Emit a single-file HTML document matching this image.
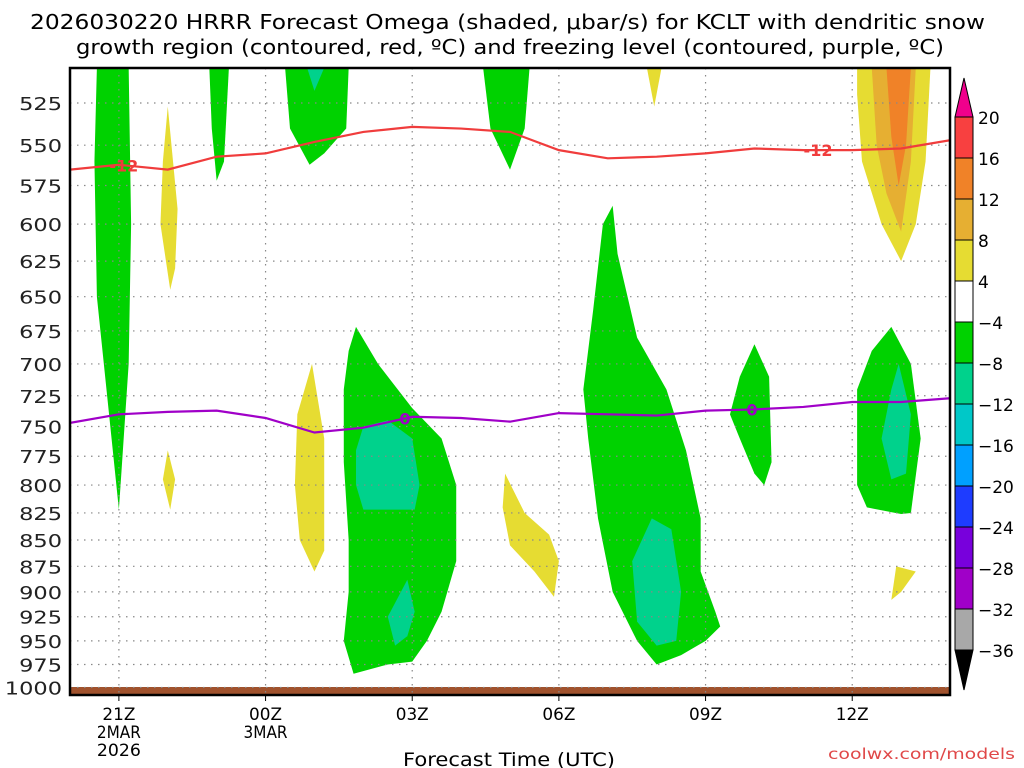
<!DOCTYPE html>
<html><head><meta charset="utf-8"><style>
body{margin:0;background:#fff;}
svg{display:block;font-family:"DejaVu Sans","Liberation Sans",sans-serif;}
</style></head><body>
<svg id="c" width="1024" height="768" viewBox="0 0 1024 768">
<text x="30" y="29" font-size="20" textLength="955" lengthAdjust="spacingAndGlyphs">2026030220 HRRR Forecast Omega (shaded, μbar/s) for KCLT with dendritic snow</text>
<text x="76" y="54" font-size="20" textLength="868" lengthAdjust="spacingAndGlyphs">growth region (contoured, red, ºC) and freezing level (contoured, purple, ºC)</text>
<g id="plot"></g>
<g id="cbar"></g>
<text x="403" y="766" font-size="19" textLength="212" lengthAdjust="spacingAndGlyphs">Forecast Time (UTC)</text>
<text x="828" y="759" font-size="15" textLength="187" lengthAdjust="spacingAndGlyphs" fill="#e04848">coolwx.com/models</text>
</svg>
<script>
const NS='http://www.w3.org/2000/svg';
const pressureTicks=[525,550,575,600,625,650,675,700,725,750,775,800,825,850,875,900,925,950,975,1000];
const timeTicks=[1,4,7,10,13,16];
const timeLabels=[['21Z','2MAR','2026'],['00Z','3MAR'],['03Z'],['06Z'],['09Z'],['12Z']];
const redLineHours=[0,1,2,3,4,5,6,7,8,9,10,11,12,13,14,15,16,17,18];
const redLineP=[565,562,565,557,555,548,542,539,540,542,553,558,557,555,552,553,553,552,547];
const purpleLineP=[747,740,738,737,743,755,751,742,743,746,739,740,741,737,736,734,730,730,727];
const cbarLevels=['20','16','12','8','4','−4','−8','−12','−16','−20','−24','−28','−32','−36'];
const cbarColors=['#f84040','#f08228','#e6af32','#e6dc32','#ffffff','#00d200','#00d28c','#00c8c8','#00a0ff','#1e3cff','#7800dc','#a000c8','#a8a8a8'];
const GREEN='#00d200',TEAL='#00d28c',YEL='#e6dc32',YOR='#e6af32',ORG='#f08228';
const shapes=[
[GREEN,[[0.55,505],[1.2,505],[1.25,600],[1.2,700],[1.05,790],[1.0,822],[0.85,760],[0.55,650],[0.5,560]]],
[GREEN,[[2.85,505],[3.25,505],[3.15,560],[3.0,572],[2.9,540]]],
[GREEN,[[4.4,505],[5.7,505],[5.65,540],[5.2,555],[4.9,562],[4.5,540]]],
[TEAL,[[4.85,505],[5.2,505],[5.0,518]]],
[GREEN,[[8.45,505],[9.4,505],[9.3,540],[9.0,565],[8.6,540]]],
[GREEN,[[5.85,672],[6.3,700],[7.0,735],[7.6,760],[7.9,800],[7.9,870],[7.6,920],[7.3,950],[7.0,972],[6.5,975],[5.8,985],[5.6,950],[5.7,900],[5.7,850],[5.6,780],[5.6,720],[5.7,690]]],
[TEAL,[[6.0,750],[6.5,745],[7.0,760],[7.15,800],[7.05,822],[6.0,822],[5.85,800],[5.85,770]]],
[TEAL,[[6.9,888],[7.05,920],[6.9,945],[6.65,955],[6.5,925]]],
[GREEN,[[10.9,600],[11.1,588],[11.2,620],[11.6,680],[12.2,720],[12.6,770],[12.9,830],[12.9,880],[13.2,920],[13.3,935],[13.0,950],[12.5,965],[12.0,975],[11.6,950],[11.1,900],[10.8,830],[10.6,760],[10.5,720],[10.7,660]]],
[TEAL,[[11.5,870],[11.9,830],[12.3,840],[12.5,900],[12.4,950],[12.0,955],[11.6,930]]],
[GREEN,[[14.0,685],[14.3,710],[14.35,780],[14.2,800],[14.0,790],[13.7,760],[13.5,740],[13.7,710]]],
[GREEN,[[16.8,672],[17.2,700],[17.4,760],[17.2,825],[17.0,826],[16.3,820],[16.1,800],[16.1,720],[16.4,690]]],
[TEAL,[[16.95,700],[17.2,740],[17.1,790],[16.8,795],[16.6,760],[16.8,720]]],
[YEL,[[2.0,527],[2.2,590],[2.15,630],[2.05,645],[1.85,600],[1.9,560]]],
[YEL,[[2.0,770],[2.15,795],[2.05,822],[1.9,795]]],
[YEL,[[4.95,700],[5.2,760],[5.2,860],[5.0,880],[4.7,850],[4.6,800],[4.65,740]]],
[YEL,[[8.9,790],[9.3,825],[9.8,845],[10.0,870],[9.9,905],[9.5,880],[9.0,855],[8.85,820]]],
[YEL,[[11.8,505],[12.1,505],[11.95,527]]],
[YEL,[[16.9,875],[17.3,880],[17.0,900],[16.8,908]]],
[YEL,[[16.1,505],[17.6,505],[17.5,560],[17.3,600],[17.0,625],[16.6,600],[16.2,560],[16.1,520]]],
[YOR,[[16.4,505],[17.3,505],[17.2,560],[17.0,605],[16.7,580],[16.5,550]]],
[ORG,[[16.7,505],[17.2,505],[17.1,550],[16.95,575],[16.8,545]]]
];
const X0=70,X1=950,Y0=68,Y1=695,PXH=(X1-X0)/18;
const x=h=>X0+h*PXH;
const y=p=>103+907*Math.log(p/525);
function mk(t,a,parent){const e=document.createElementNS(NS,t);for(const k in a)e.setAttribute(k,a[k]);parent.appendChild(e);return e;}
const plot=document.getElementById('plot');
const cp=mk('clipPath',{id:'clip'},plot);mk('rect',{x:X0,y:Y0,width:X1-X0,height:Y1-Y0},cp);
const g=mk('g',{'clip-path':'url(#clip)'},plot);
shapes.forEach((s,i)=>{const el=mk('polygon',{points:s[1].map(q=>x(q[0])+','+y(q[1])).join(' '),fill:s[0]},g);

});
const surf=mk('rect',{x:X0,y:687,width:X1-X0,height:8,fill:'#a0522d'},g);


pressureTicks.forEach(p=>{const l=mk('line',{x1:X0,x2:X1,y1:y(p),y2:y(p),stroke:'#888','stroke-dasharray':'1.5,5.5','stroke-width':1.2},g);


const s=String(p);const w=s.length*14.3;
const t=mk('text',{x:62-w,y:y(p)+7,'font-size':18,fill:'#222',textLength:w,lengthAdjust:'spacingAndGlyphs'},plot);t.textContent=s;

});
timeTicks.forEach((h,i)=>{const l=mk('line',{x1:x(h),x2:x(h),y1:Y0,y2:Y1,stroke:'#888','stroke-dasharray':'1.5,5.5','stroke-width':1.2},g);


mk('line',{x1:x(h),x2:x(h),y1:Y1,y2:Y1+6,stroke:'#000'},plot);
timeLabels[i].forEach((s,j)=>{const w=s.length*11;const t=mk('text',{x:x(h)-w/2,y:720+j*18,'font-size':17,textLength:w,lengthAdjust:'spacingAndGlyphs'},plot);t.textContent=s;

});});
const red=mk('polyline',{points:redLineHours.map((h,i)=>x(h)+','+y(redLineP[i])).join(' '),fill:'none',stroke:'#f03c3c','stroke-width':2.2},g);


const pur=mk('polyline',{points:redLineHours.map((h,i)=>x(h)+','+y(purpleLineP[i])).join(' '),fill:'none',stroke:'#a000c8','stroke-width':2.2},g);


function interp(arr,h){const i=Math.min(17,Math.floor(h)),f=h-i;return arr[i]*(1-f)+arr[i+1]*f;}
[[1.1,redLineP,'-12','#f03c3c'],[15.3,redLineP,'-12','#f03c3c'],[6.85,purpleLineP,'0','#a000c8'],[13.95,purpleLineP,'0','#a000c8']].forEach(a=>{
const yy=y(interp(a[1],a[0]));
const t=mk('text',{x:x(a[0]),y:yy+6,'font-size':16,'font-weight':'bold','text-anchor':'middle',fill:a[3]},g);t.textContent=a[2];

});
mk('rect',{x:X0,y:Y0,width:X1-X0,height:Y1-Y0,fill:'none',stroke:'#000','stroke-width':2.5},plot);
const cb=document.getElementById('cbar');
const CX=955,CW=18,CT=117,STEP=41;
mk('polygon',{points:`${CX},${CT} ${CX+CW},${CT} ${CX+CW/2},78`,fill:'#f0008c',stroke:'#000'},cb);
cbarColors.forEach((c,i)=>{const r=mk('rect',{x:CX,y:CT+i*STEP,width:CW,height:STEP,fill:c,stroke:'#000'},cb);

});
const yb=CT+cbarColors.length*STEP;
mk('polygon',{points:`${CX},${yb} ${CX+CW},${yb} ${CX+CW/2},690`,fill:'#000',stroke:'#000'},cb);
cbarLevels.forEach((s,i)=>{const t=mk('text',{x:CX+CW+5,y:CT+i*STEP+7,'font-size':17},cb);t.textContent=s;

});
</script>
</body></html>
